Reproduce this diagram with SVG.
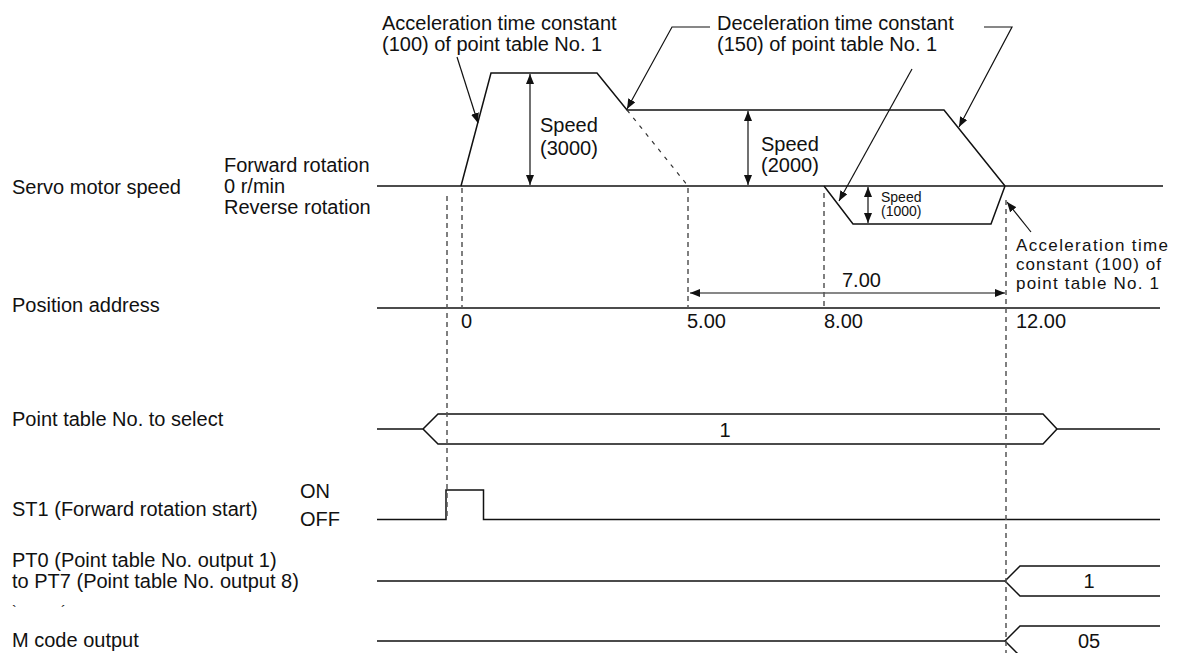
<svg xmlns="http://www.w3.org/2000/svg" width="1183" height="653" viewBox="0 0 1183 653">
<style>
text{font-family:"Liberation Sans",Arial,sans-serif;font-size:20px;fill:#111}
.sm{font-size:14px}
.cb{font-size:17px}
.ln{stroke:#111;stroke-width:1.5;fill:none}
.th{stroke:#111;stroke-width:1.2;fill:none}
.ds{stroke:#555;stroke-width:1.5;stroke-dasharray:5 4;fill:none}
.dd{stroke:#333;stroke-width:1.2;stroke-dasharray:4 6;fill:none}
.ar{marker-end:url(#ah)}
.ar2{marker-start:url(#ah);marker-end:url(#ah)}
</style>
<defs>
<marker id="ah" viewBox="0 0 10 8" refX="10" refY="4" markerWidth="10" markerHeight="8" markerUnits="userSpaceOnUse" orient="auto-start-reverse">
<path d="M0,0 L10,4 L0,8 z" fill="#111"/>
</marker>
</defs>

<g id="labels">
<text x="12" y="194">Servo motor speed</text>
<text x="224" y="172">Forward rotation</text>
<text x="224" y="193">0 r/min</text>
<text x="224" y="214">Reverse rotation</text>
<text x="12" y="312">Position address</text>
<text x="12" y="426">Point table No. to select</text>
<text x="12" y="516">ST1 (Forward rotation start)</text>
<text x="300" y="498">ON</text>
<text x="300" y="526">OFF</text>
<text x="12" y="567">PT0 (Point table No. output 1)</text>
<text x="12" y="588">to PT7 (Point table No. output 8)</text>
<text x="12" y="616" class="sm">`</text>
<text x="61" y="616" class="sm">´</text>
<text x="12" y="647">M code output</text>
</g>

<g id="speed-chart">
<line class="ln" x1="377" y1="186" x2="1163" y2="186"/>
<polyline class="ln" points="461,186 491,73 597,73 627,110 944,110 1005,186"/>
<line class="dd" x1="627" y1="110" x2="688" y2="186"/>
<polyline class="ln" points="824,186 853,224 991,224 1005,186"/>
<line class="th ar2" x1="530" y1="74" x2="530" y2="185"/>
<text x="540" y="132">Speed</text>
<text x="540" y="155">(3000)</text>
<line class="th ar2" x1="748" y1="111" x2="748" y2="185"/>
<text x="761" y="151">Speed</text>
<text x="761" y="172">(2000)</text>
<line class="th ar2" x1="868" y1="187" x2="868" y2="223"/>
<text x="881" y="202" class="sm">Speed</text>
<text x="881" y="216" class="sm">(1000)</text>
</g>

<g id="position-chart">
<line class="ln" x1="377" y1="308" x2="1160" y2="308"/>
<text x="461" y="328">0</text>
<text x="687" y="328">5.00</text>
<text x="824" y="328">8.00</text>
<text x="1016" y="328">12.00</text>
<line class="th ar2" x1="690" y1="293" x2="1005" y2="293"/>
<text x="842" y="287">7.00</text>
</g>

<g id="callouts">
<text x="382" y="30">Acceleration time constant</text>
<text x="382" y="51">(100) of point table No. 1</text>
<line class="th ar" x1="457" y1="57" x2="478" y2="123"/>
<text x="717" y="30">Deceleration time constant</text>
<text x="717" y="51">(150) of point table No. 1</text>
<polyline class="th ar" points="710,27 672,27 627,109"/>
<polyline class="th ar" points="984,27 1012,27 959,127"/>
<line class="th ar" x1="912" y1="69" x2="839" y2="201"/>
<text x="1016" y="251" class="cb" textLength="152" lengthAdjust="spacing">Acceleration time</text>
<text x="1016" y="270" class="cb" textLength="145" lengthAdjust="spacing">constant (100) of</text>
<text x="1016" y="289" class="cb" textLength="143" lengthAdjust="spacing">point table No. 1</text>
<line class="th ar" x1="1031" y1="232" x2="1007" y2="202"/>
</g>

<g id="point-table-select">
<polyline class="ln" points="377,429 423,429 438,414 1043,414 1057,429 1160,429"/>
<polyline class="ln" points="423,429 438,444 1043,444 1057,429"/>
<text x="725" y="437" text-anchor="middle">1</text>
</g>

<g id="st1">
<polyline class="ln" points="377,519.5 446,519.5 446,490 483.5,490 483.5,519.5 1160,519.5"/>
</g>

<g id="pt-output">
<polyline class="ln" points="377,581 1005,581 1020,566 1160,566"/>
<polyline class="ln" points="1005,581 1020,596 1160,596"/>
<text x="1089" y="588" text-anchor="middle">1</text>
</g>

<g id="m-code">
<polyline class="ln" points="377,641 1005,641 1020,626 1160,626"/>
<polyline class="ln" points="1005,641 1020,656 1160,656"/>
<text x="1089" y="648" text-anchor="middle">05</text>
</g>

<g id="connectors">
<line class="ds" x1="447" y1="196" x2="447" y2="519"/>
<line class="ds" x1="462" y1="188" x2="462" y2="308"/>
<line class="ds" x1="688" y1="188" x2="688" y2="308"/>
<line class="ds" x1="824" y1="193" x2="824" y2="308"/>
<line class="ds" x1="1006" y1="200" x2="1006" y2="653"/>
</g>
</svg>
